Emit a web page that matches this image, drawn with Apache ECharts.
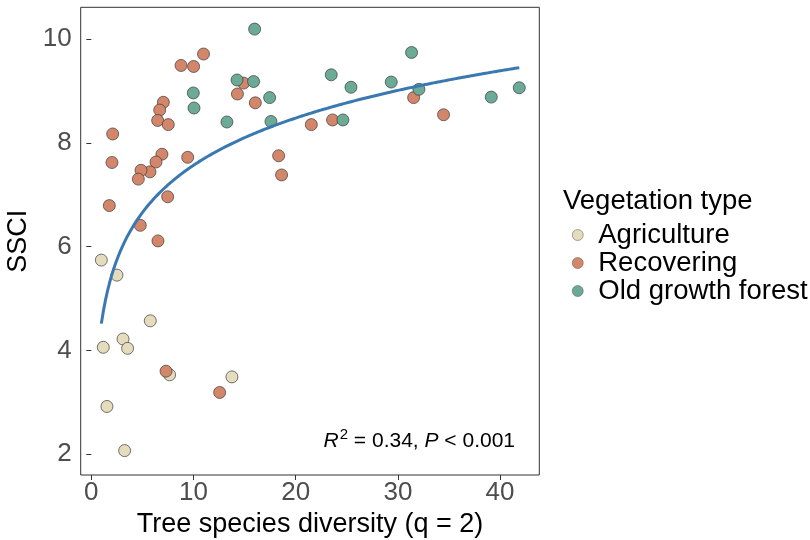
<!DOCTYPE html>
<html>
<head>
<meta charset="utf-8">
<script src="https://cdn.jsdelivr.net/npm/echarts@6/dist/echarts.min.js"></script>
<style>
  html, body { margin: 0; padding: 0; background: #fff; }
  #chart { width: 810px; height: 540px; }
</style>
</head>
<body>
<div id="chart"></div>
<script>
// points: [diversity, SSCI]
var agriculture = [
  [0.98, 5.74], [2.51, 5.45], [5.77, 4.57], [3.1, 4.22], [1.17, 4.06],
  [3.55, 4.04], [7.66, 3.53], [13.76, 3.49], [1.53, 2.92], [3.26, 2.07]
];
var recovering = [
  [10.98, 9.71], [8.78, 9.49], [10.01, 9.47], [14.3, 8.94], [7.05, 8.78],
  [6.69, 8.63], [6.49, 8.43], [7.53, 8.35], [2.09, 8.17], [2.02, 7.62],
  [6.91, 7.78], [6.33, 7.63], [5.74, 7.44], [4.86, 7.47], [4.6, 7.3],
  [9.43, 7.72], [1.76, 6.79], [7.47, 6.96], [4.79, 6.41], [6.52, 6.11],
  [7.31, 3.6], [12.56, 3.19], [14.9, 9.15], [16.05, 8.77], [21.53, 8.35],
  [23.61, 8.44], [18.33, 7.75], [18.62, 7.38], [31.54, 8.87], [34.47, 8.54]
];
var oldGrowth = [
  [14.26, 9.21], [9.98, 8.96], [10.05, 8.67], [13.27, 8.4], [15.98, 10.19],
  [15.88, 9.18], [17.45, 8.87], [17.58, 8.41], [24.62, 8.44], [23.48, 9.31],
  [25.41, 9.07], [29.35, 9.17], [31.34, 9.74], [32.06, 9.03], [39.14, 8.88],
  [41.88, 9.06]
];
var xTicks = [0, 10, 20, 30, 40];
var yTicks = [2, 4, 6, 8, 10];

var colors = {
  agriculture: "#E5DBBD",
  recovering: "#D4866A",
  oldGrowth: "#6BAA96",
  fit: "#3A78B2"
};

// log fit y = a + b ln(x) on all points
var all = agriculture.concat(recovering, oldGrowth);
var sx = 0, sy = 0, sxx = 0, sxy = 0;
all.forEach(function (p) {
  var lx = Math.log(p[0]);
  sx += lx; sy += p[1]; sxx += lx * lx; sxy += lx * p[1];
});
var n = all.length;
var b = (n * sxy - sx * sy) / (n * sxx - sx * sx);
var a = (sy - b * sx) / n;
var xs = all.map(function (p) { return p[0]; });
var xMin = Math.min.apply(null, xs), xMax = Math.max.apply(null, xs);
var fitLine = [];
for (var i = 0; i <= 200; i++) {
  var x = xMin + (xMax - xMin) * i / 200;
  fitLine.push([x, a + b * Math.log(x)]);
}

var chart = echarts.init(document.getElementById("chart"));
var font = "Liberation Sans, Arial, sans-serif";

function pointSeries(name, data, color) {
  return {
    name: name,
    type: "scatter",
    data: data,
    symbolSize: 12,
    itemStyle: { color: color, borderColor: "#3a3a3a", borderWidth: 0.7, opacity: 1 },
    z: 3
  };
}

var option = {
  backgroundColor: "#fff",
  animation: false,
  grid: {
    left: 80.7, top: 7.3, right: 270.7, bottom: 65,
    outerBoundsMode: "none",
    show: true, borderColor: "#333", borderWidth: 1, backgroundColor: "transparent"
  },
  xAxis: {
    type: "value",
    min: -1.04, max: 43.84,
    name: "Tree species diversity (q = 2)",
    nameLocation: "middle",
    nameGap: 35,
    nameTextStyle: { color: "#000", fontSize: 27, fontFamily: font },
    axisLine: { show: false },
    axisTick: { show: true, length: 5, lineStyle: { color: "#333" }, customValues: xTicks },
    axisLabel: { color: "#4D4D4D", fontSize: 26, fontFamily: font, margin: 5, customValues: xTicks },
    splitLine: { show: false }
  },
  yAxis: {
    type: "value",
    min: 1.6, max: 10.61,
    name: "SSCI",
    nameLocation: "middle",
    nameRotate: 90,
    nameGap: 42,
    nameTextStyle: { color: "#000", fontSize: 27, fontFamily: font },
    axisLine: { show: false },
    axisTick: { show: true, length: 5, lineStyle: { color: "#333" }, customValues: yTicks },
    axisLabel: { color: "#4D4D4D", fontSize: 26, fontFamily: font, margin: 9, customValues: yTicks },
    splitLine: { show: false }
  },
  legend: {
    orient: "vertical",
    left: 567, top: 216,
    itemWidth: 11, itemHeight: 11, itemGap: 0,
    icon: "circle",
    itemStyle: { borderWidth: 0.5, borderColor: "#555" },
    textStyle: { color: "#000", fontSize: 27.5, lineHeight: 27, fontFamily: font, padding: [0, 0, 0, 10] },
    data: ["Agriculture", "Recovering", "Old growth forest"]
  },
  graphic: [
    {
      type: "text", left: 563, top: 187,
      style: { text: "Vegetation type", fontSize: 27.5, fontFamily: font, fill: "#000" }
    },
    {
      type: "text", right: 295, top: 427,
      style: {
        text: "{i|R}{s|2}{n| = 0.34, }{i|P}{n| < 0.001}",
        fontFamily: font,
        rich: {
          i: { fontStyle: "italic", fontSize: 21, fontFamily: font, fill: "#000", verticalAlign: "bottom" },
          n: { fontSize: 21, fontFamily: font, fill: "#000", verticalAlign: "bottom" },
          s: { fontSize: 15, fontFamily: font, fill: "#000", verticalAlign: "top", padding: [0, 0, 10, 1] }
        }
      }
    }
  ],
  series: [
    pointSeries("Agriculture", agriculture, colors.agriculture),
    pointSeries("Recovering", recovering, colors.recovering),
    pointSeries("Old growth forest", oldGrowth, colors.oldGrowth),
    {
      name: "fit",
      type: "line",
      data: fitLine,
      showSymbol: false,
      smooth: false,
      lineStyle: { color: colors.fit, width: 3 },
      z: 4
    }
  ]
};
chart.setOption(option);
</script>
</body>
</html>
